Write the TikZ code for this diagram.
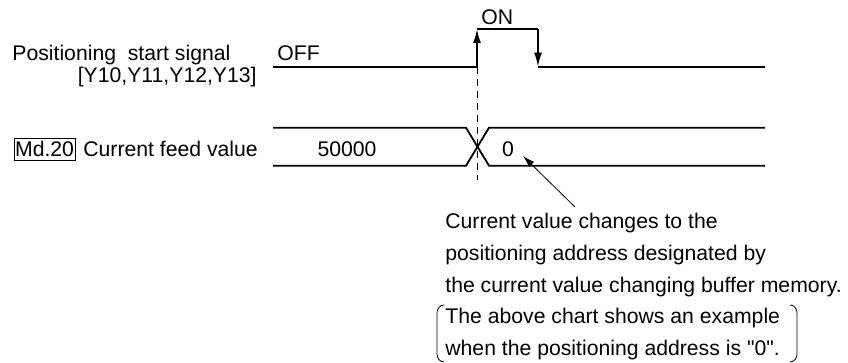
\documentclass[tikz,border=0pt]{standalone}
\usepackage{fontspec}
\setmainfont{Liberation Sans}[Ligatures=TeXOff]
\usetikzlibrary{arrows.meta,positioning}

\begin{document}
\begin{tikzpicture}[
    x=0.5pt, y=-0.5pt,
    font=\fontsize{10.6}{15.9}\selectfont,
    wave/.style={line width=0.9pt},
    edgearrow/.style={wave, -{Latex[length=7pt,width=4pt]}},
    lbl/.style={inner sep=0pt},
    paren/.style={line width=0.4pt}
  ]
  \useasboundingbox (0,0) rectangle (848,363);

  % left labels
  \node[lbl, anchor=base west] (startlbl) at (12,61) {Positioning\ \ start signal};
  \node[lbl, anchor=base east] (startdev) at (257,83) {[Y10,Y11,Y12,Y13]};
  \node[
    lbl,
    draw,
    line width=0.4pt,
    inner xsep=0.6pt,
    inner ysep=1.6pt,
    anchor=base west
  ] (md) at (13.5,156.5) {Md.20};
  \node[lbl, anchor=base west] (feedlbl) at (83,156.5) {Current feed value};

  % start signal
  \coordinate (s0) at (273,66.7);
  \coordinate (rise) at (477,66.7);
  \coordinate (risetop) at (477,29);
  \coordinate (falltop) at (538,29);
  \coordinate (fall) at (538,66.7);
  \coordinate (s1) at (765,66.7);
  \draw[wave] (s0) -- (rise);
  \draw[edgearrow] (rise) -- (risetop);
  \draw[wave] (risetop) -- (falltop);
  \draw[edgearrow] (falltop) -- (fall);
  \draw[wave] (fall) -- (s1);
  \node[lbl, anchor=base west] (off) at (277,61) {OFF};
  \node[lbl, anchor=base west] (on) at (481,25) {ON};

  % feed value bus
  \coordinate (b0t) at (273,127.7);
  \coordinate (b0b) at (273,165.7);
  \coordinate (xlt) at (466,127.7);
  \coordinate (xlb) at (466,165.7);
  \coordinate (xrt) at (489,127.7);
  \coordinate (xrb) at (489,165.7);
  \coordinate (b1t) at (765,127.7);
  \coordinate (b1b) at (765,165.7);
  \draw[wave] (b0t) -- (xlt) -- (xrb) -- (b1b);
  \draw[wave] (b0b) -- (xlb) -- (xrt) -- (b1t);
  \node[lbl, anchor=base] (oldval) at (347,156.5) {50000};
  \node[lbl, anchor=base] (newval) at (508,156.5) {0};

  % timing mark
  \coordinate (dashend) at (477,180);
  \draw[line width=0.5pt, dash pattern=on 3.5pt off 2.5pt] (rise) -- (dashend);

  % note
  \node[
    lbl,
    anchor=north west,
    align=left
  ] (note) at (445,212.7) {Current value changes to the\\
    positioning address designated by\\
    the current value changing buffer memory.\\
    The above chart shows an example\\
    when the positioning address is "0".};
  \coordinate (tail) at (575,207);
  \coordinate (tip) at (523,156);
  \draw[line width=0.4pt, -{Latex[length=6pt,width=3.5pt]}] (tail) -- (tip);

  % brackets round the last two lines
  \coordinate (lp) at (444,305);
  \coordinate (rp) at (790,305);
  \draw[paren] (lp) to[out=180,in=90] (437,313) -- (437,354) to[out=-90,in=180] (444,362);
  \draw[paren] (rp) to[out=0,in=90] (797,313) -- (797,354) to[out=-90,in=0] (790,362);
\end{tikzpicture}
\end{document}
